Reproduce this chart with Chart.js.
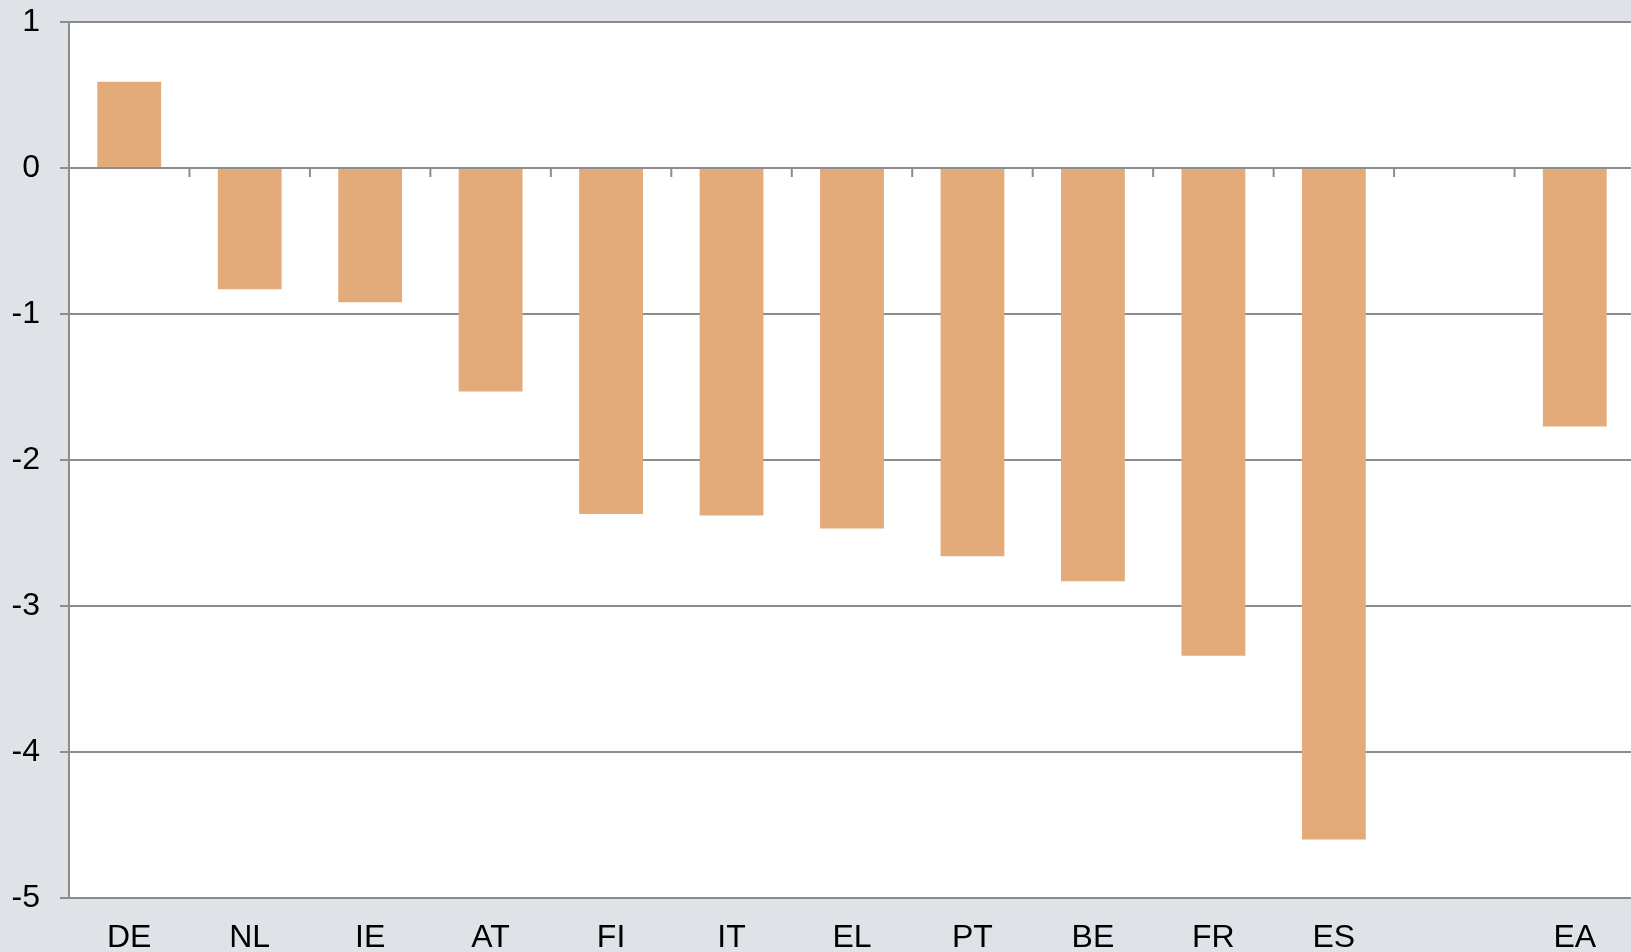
<!DOCTYPE html>
<html>
<head>
<meta charset="utf-8">
<script src="https://cdn.jsdelivr.net/npm/chart.js@4.4.1/dist/chart.umd.min.js"></script>
<style>
	html, body { margin: 0; padding: 0; background: #dfe3e8; overflow: hidden; }
	/* plot runs a few pixels past the right edge, as in the original */
	#wrap { width: 1635px; height: 952px; position: relative; }
</style>
</head>
<body>
<div id="wrap"><canvas id="cnv_chart"></canvas></div>
<script>
// Countries (one empty slot before the euro area bar)
const countries = ["DE", "NL", "IE", "AT", "FI", "IT", "EL", "PT", "BE", "FR", "ES", "", "EA"];
// Values
const values = [0.59, -0.83, -0.92, -1.53, -2.37, -2.38, -2.47, -2.66, -2.83, -3.34, -4.6, null, -1.77];
const yTicks = [1, 0, -1, -2, -3, -4, -5];

const GRID = "#8c8c8c";
const BAR = "#e3ab79";

// White plot area on grey page
const plotBackground = {
	id: "plotBackground",
	beforeDraw(chart) {
		const { ctx, chartArea } = chart;
		ctx.save();
		ctx.fillStyle = "#ffffff";
		ctx.fillRect(chartArea.left, chartArea.top, chartArea.right - chartArea.left, chartArea.bottom - chartArea.top);
		ctx.restore();
	}
};

// Category separator ticks hanging under the zero line
const zeroTicks = {
	id: "zeroTicks",
	afterDatasetsDraw(chart) {
		const { ctx, scales } = chart;
		const y0 = scales.y.getPixelForValue(0);
		ctx.save();
		ctx.strokeStyle = GRID;
		ctx.lineWidth = 2;
		for (let i = 1; i < countries.length; i++) {
			const x = (scales.x.getPixelForValue(i - 1) + scales.x.getPixelForValue(i)) / 2;
			ctx.beginPath();
			ctx.moveTo(x, y0);
			ctx.lineTo(x, y0 + 9);
			ctx.stroke();
		}
		ctx.restore();
	}
};

Chart.defaults.font.family = "'Liberation Sans', Arial, sans-serif";
Chart.defaults.font.size = 32;
Chart.defaults.color = "#000000";

new Chart(document.getElementById("cnv_chart").getContext("2d"), {
	type: "bar",
	plugins: [plotBackground, zeroTicks],
	data: {
		labels: countries,
		datasets: [{
			data: values,
			backgroundColor: BAR,
			borderWidth: 0,
			barPercentage: 0.53,
			categoryPercentage: 1
		}]
	},
	options: {
		responsive: true,
		maintainAspectRatio: false,
		animation: false,
		layout: { padding: { top: 22, right: 0, bottom: 0, left: 0 } },
		plugins: { legend: { display: false }, tooltip: { enabled: false } },
		scales: {
			x: {
				grid: { display: false, drawTicks: false },
				border: { display: false },
				ticks: { padding: 21, maxRotation: 0, autoSkip: false },
				afterFit: (scale) => { scale.height = 54; scale.paddingLeft = 0; scale.paddingRight = 0; }
			},
			y: {
				min: -5,
				max: 1,
				afterBuildTicks: (scale) => { scale.ticks = yTicks.map(v => ({ value: v })); },
				grid: { color: GRID, lineWidth: 2, tickLength: 9, drawTicks: true },
				border: { display: true, color: GRID, width: 2 },
				ticks: { padding: 20, stepSize: 1 },
				afterFit: (scale) => { scale.width = 69; scale.paddingTop = 0; scale.paddingBottom = 0; }
			}
		}
	}
});
</script>
</body>
</html>
